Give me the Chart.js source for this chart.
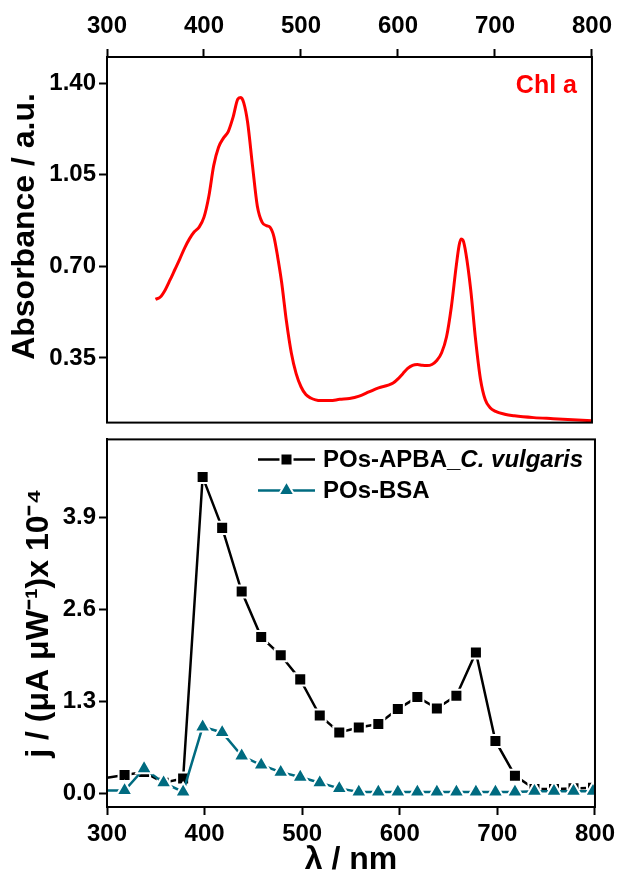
<!DOCTYPE html>
<html lang="en">
<head>
  <meta charset="UTF-8" />
  <title>Chl a absorbance and photocurrent spectra</title>
  <script src="https://cdn.jsdelivr.net/npm/chart.js"></script>
  <style>
    body { margin: 0; background: #fff; }
    #fig { position: relative; width: 620px; height: 871px; overflow: hidden; }
    .panel { position: absolute; left: 0; width: 620px; }
    #panelTop { top: 0; height: 440px; }
    #panelBottom { top: 422px; height: 461px; }
  </style>
</head>
<body>
  <div id="fig">
    <div class="panel" id="panelTop"><canvas id="chartAbs"></canvas></div>
    <div class="panel" id="panelBottom"><canvas id="chartJ"></canvas></div>
  </div>

  <script>
    // tick values
    const wavelengthTicks = [300, 400, 500, 600, 700, 800];
    const absTicks = [0.35, 0.70, 1.05, 1.40];
    const jTicks = [0.0, 1.3, 2.6, 3.9];

    // Chl a absorbance spectrum
    const chlWavelength = [350, 355, 360, 365, 370, 375, 380, 385, 390, 395, 400, 405, 410, 415, 420, 425, 430, 435, 438, 441, 445, 450, 455, 460, 465, 468, 472, 476, 480, 485, 490, 495, 500, 505, 510, 515, 520, 530, 540, 550, 560, 570, 580, 590, 595, 600, 605, 610, 615, 620, 625, 630, 635, 640, 645, 650, 655, 660, 663, 665, 667, 670, 675, 680, 685, 690, 695, 700, 710, 720, 740, 760, 780, 800];
    const chlAbsorbance = [0.574, 0.583, 0.610, 0.648, 0.688, 0.728, 0.770, 0.805, 0.832, 0.850, 0.888, 0.968, 1.085, 1.155, 1.190, 1.215, 1.270, 1.340, 1.345, 1.325, 1.250, 1.085, 0.930, 0.868, 0.855, 0.850, 0.815, 0.735, 0.640, 0.490, 0.370, 0.290, 0.240, 0.210, 0.197, 0.190, 0.187, 0.187, 0.192, 0.195, 0.204, 0.220, 0.236, 0.246, 0.254, 0.270, 0.290, 0.310, 0.322, 0.325, 0.322, 0.321, 0.325, 0.340, 0.370, 0.430, 0.545, 0.700, 0.780, 0.805, 0.800, 0.750, 0.610, 0.420, 0.270, 0.190, 0.160, 0.147, 0.135, 0.129, 0.122, 0.118, 0.114, 0.110];

    // photocurrent action spectra, j / (uA uW-1) x 10^-4
    const jWavelength = [300, 318, 338, 358, 378, 398, 418, 438, 458, 478, 498, 518, 538, 558, 578, 598, 618, 638, 658, 678, 698, 718, 738, 758, 778, 798];
    const jApbaVulgaris = [0.22, 0.26, 0.30, 0.15, 0.21, 4.47, 3.75, 2.85, 2.21, 1.95, 1.61, 1.10, 0.86, 0.93, 0.98, 1.19, 1.36, 1.20, 1.38, 1.99, 0.74, 0.25, 0.06, 0.06, 0.07, 0.08];
    const jBsa = [0.04, 0.04, 0.35, 0.15, 0.02, 0.94, 0.86, 0.53, 0.40, 0.30, 0.23, 0.15, 0.07, 0.02, 0.02, 0.02, 0.02, 0.02, 0.02, 0.02, 0.02, 0.02, 0.03, 0.03, 0.03, 0.03];

    const FONT = "'Liberation Sans', Arial, sans-serif";
    const TEAL = '#006b80';
    const RED = '#ff0000';

    Chart.defaults.font.family = FONT;
    Chart.defaults.color = '#000';

    const toXY = (xs, ys) => xs.map((x, i) => ({ x: x, y: ys[i] }));
    const setTicks = list => scale => { scale.ticks = list.map(v => ({ value: v })); };

    function axisLook(extra) {
      return Object.assign({
        grid: { display: true, drawOnChartArea: false, drawTicks: true, tickLength: 8, tickWidth: 2, tickColor: '#000' },
        border: { display: true, width: 2, color: '#000' }
      }, extra);
    }

    // closed box around each panel
    const framePlugin = {
      id: 'frame',
      afterDraw(chart) {
        const { ctx, chartArea: a } = chart;
        ctx.save();
        ctx.strokeStyle = '#000';
        ctx.lineWidth = 2;
        ctx.strokeRect(a.left, a.top, a.right - a.left, a.bottom - a.top);
        ctx.restore();
      }
    };

    function drawMarker(ctx, style, x, y, r) {
      ctx.beginPath();
      if (style === 'rect') {
        const s = r * Math.SQRT1_2;
        ctx.rect(x - s, y - s, 2 * s, 2 * s);
      } else {
        ctx.moveTo(x, y - r);
        ctx.lineTo(x + r * Math.sin(2 * Math.PI / 3), y + r / 2);
        ctx.lineTo(x - r * Math.sin(2 * Math.PI / 3), y + r / 2);
        ctx.closePath();
      }
      ctx.fill();
      ctx.stroke();
    }

    const chlLabel = {
      id: 'chlLabel',
      afterDraw(chart) {
        const { ctx, chartArea: a } = chart;
        ctx.save();
        ctx.fillStyle = RED;
        ctx.font = 'bold 25px ' + FONT;
        ctx.textAlign = 'right';
        ctx.textBaseline = 'alphabetic';
        ctx.fillText('Chl a', a.right - 15, a.top + 36);
        ctx.restore();
      }
    };

    // legend with the line running through the symbol, and an italic species name
    const jLegend = {
      id: 'jLegend',
      afterDraw(chart) {
        const { ctx, chartArea: a } = chart;
        const rows = [
          { color: '#000', style: 'rect', r: 8.5, parts: [['POs-APBA_', ''], ['C. vulgaris', 'italic ']] },
          { color: TEAL, style: 'triangle', r: 9.2, parts: [['POs-BSA', '']] }
        ];
        ctx.save();
        rows.forEach((row, i) => {
          const y = a.top + 20 + i * 31;
          ctx.strokeStyle = row.color;
          ctx.lineWidth = 2.5;
          ctx.beginPath();
          ctx.moveTo(a.left + 151, y);
          ctx.lineTo(a.left + 208, y);
          ctx.stroke();
          ctx.fillStyle = row.color;
          ctx.strokeStyle = '#fff';
          ctx.lineWidth = 2;
          drawMarker(ctx, row.style, a.left + 179.5, y, row.r);
          let x = a.left + 216;
          ctx.fillStyle = '#000';
          ctx.textAlign = 'left';
          ctx.textBaseline = 'alphabetic';
          row.parts.forEach(([txt, st]) => {
            ctx.font = st + 'bold 24px ' + FONT;
            ctx.fillText(txt, x, y + 8);
            x += ctx.measureText(txt).width;
          });
        });
        ctx.restore();
      }
    };

    new Chart(document.getElementById('chartAbs'), {
      type: 'line',
      data: {
        datasets: [{
          label: 'Chl a',
          data: toXY(chlWavelength, chlAbsorbance),
          borderColor: RED,
          borderWidth: 3,
          pointRadius: 0,
          cubicInterpolationMode: 'monotone',
          fill: false
        }]
      },
      options: {
        responsive: true,
        maintainAspectRatio: false,
        animation: false,
        events: [],
        layout: { padding: { left: 2, right: 23, top: 0, bottom: 9 } },
        plugins: { legend: { display: false }, tooltip: { enabled: false } },
        scales: {
          x: axisLook({
            type: 'linear',
            position: 'top',
            min: 300,
            max: 800,
            afterBuildTicks: setTicks(wavelengthTicks),
            afterFit: s => { s.height = 57; },
            ticks: { font: { size: 24, weight: 'bold' }, padding: 8, maxRotation: 0 }
          }),
          y: axisLook({
            type: 'linear',
            min: 0.103,
            max: 1.50,
            afterBuildTicks: setTicks(absTicks),
            afterFit: s => { s.width = 105; },
            ticks: { font: { size: 24, weight: 'bold' }, padding: 3, callback: v => v.toFixed(2) },
            title: { display: true, text: '   Absorbance / a.u.', font: { size: 32, weight: 'bold' } }
          })
        }
      },
      plugins: [framePlugin, chlLabel]
    });

    new Chart(document.getElementById('chartJ'), {
      type: 'line',
      data: {
        datasets: [{
          label: 'POs-BSA',
          data: toXY(jWavelength, jBsa),
          borderColor: TEAL,
          backgroundColor: TEAL,
          borderWidth: 2.5,
          pointStyle: 'triangle',
          pointRadius: c => (c.raw && c.raw.x <= 300 ? 0 : 9.2),
          pointBackgroundColor: TEAL,
          pointBorderColor: '#fff',
          pointBorderWidth: 2,
          tension: 0,
          fill: false
        }, {
          label: 'POs-APBA_C. vulgaris',
          data: toXY(jWavelength, jApbaVulgaris),
          borderColor: '#000',
          backgroundColor: '#000',
          borderWidth: 2.5,
          pointStyle: 'rect',
          pointRadius: c => (c.raw && c.raw.x <= 300 ? 0 : 8.5),
          pointBackgroundColor: '#000',
          pointBorderColor: '#fff',
          pointBorderWidth: 2,
          tension: 0,
          fill: false
        }]
      },
      options: {
        responsive: true,
        maintainAspectRatio: false,
        animation: false,
        events: [],
        layout: { padding: { left: 16, right: 23, top: 9, bottom: 0 } },
        plugins: { legend: { display: false }, tooltip: { enabled: false } },
        scales: {
          x: axisLook({
            type: 'linear',
            position: 'bottom',
            min: 300,
            max: 800,
            afterBuildTicks: setTicks(wavelengthTicks),
            afterFit: s => { s.height = 76; },
            ticks: { font: { size: 24, weight: 'bold' }, padding: 5, maxRotation: 0 },
            title: { display: true, text: 'λ / nm', font: { size: 32, weight: 'bold' }, padding: { top: 0, bottom: 4 } }
          }),
          y: axisLook({
            type: 'linear',
            min: -0.193,
            max: 5.0,
            afterBuildTicks: setTicks(jTicks),
            afterFit: s => { s.width = 91; },
            ticks: { font: { size: 24, weight: 'bold' }, padding: 3, callback: v => v.toFixed(1) },
            title: { display: true, text: 'j / (μA μW⁻¹)x 10⁻⁴', font: { size: 32, weight: 'bold' } }
          })
        }
      },
      plugins: [framePlugin, jLegend]
    });
  </script>
</body>
</html>
